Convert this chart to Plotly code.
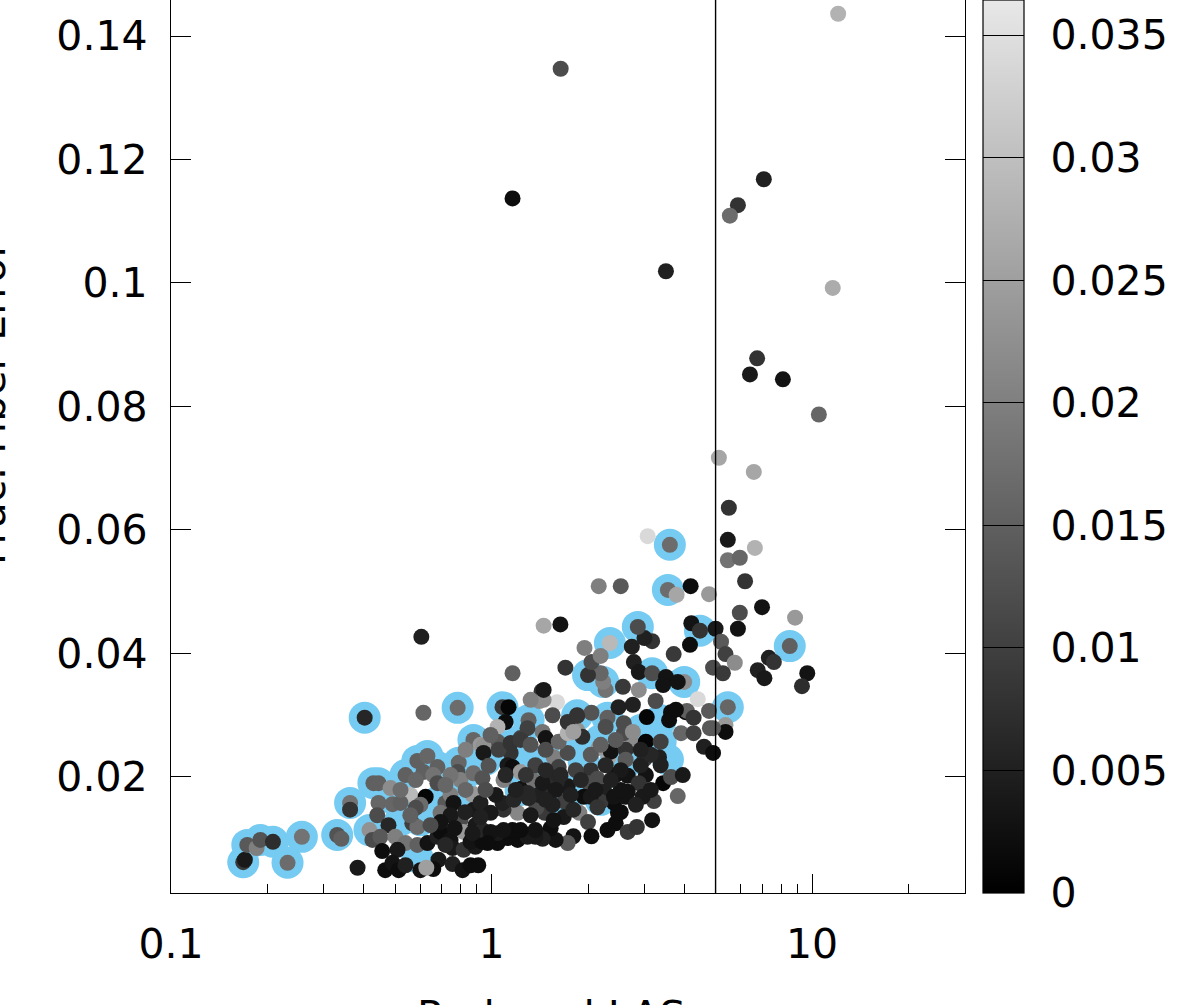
import plotly.graph_objects as go

# Gray points, in drawing order
las = [
.168,.170,.173,.185,.190,.208,.231,.256,.330,.340,.362,.362,.402,.382,.428,.444,.484,.444,.491,.440,
.539,.587,.631,.613,.678,.658,.678,.558,.623,.600,.580,.520,.477,.566,.587,.416,.425,.450,.501,.539,
.587,.456,.509,.631,.678,.693,.745,.756,.818,.891,.683,.466,.491,.513,.539,.600,.658,.756,.812,.860,
.909,.626,.718,.693,.745,.790,.784,.800,.872,.878,.924,.800,.818,.878,.860,.761,.613,.784,.604,
.745,.827,.693,.767,.891,.645,.718,
1.163,1.082,1.13,1.106,1.044,1.41,1.433,1.305,1.443,1.475,1.232,1.295,1.147,1.044,.944,.944,1.052,1.122,1.163,1.232,
.979,1.09,.878,.937,.878,.924,1.563,1.62,1.728,1.62,1.728,1.85,1.92,1.85,1.728,2.05,2.30,2.27,2.585,2.49,
2.76,3.05,3.63,3.58,4.03,3.25,2.88,2.57,2.27,2.23,2.19,2.0,2.05,2.78,2.88,3.17,3.50,3.43,3.99,3.81,
3.70,4.16,2.74,3.17,3.0,2.86,1.95,2.19,1.70,2.34,3.90,4.27,4.80,5.37,5.37,4.60,4.91,2.72,2.585,2.32,
2.16,2.355,2.62,3.03,3.37,2.62,3.0,3.33,3.37,2.04,2.14,2.01,2.25,2.44,2.66,3.03,3.43,3.63,3.95,2.88,
3.81,3.21,2.96,2.66,2.41,2.19,1.94,1.69,1.88,1.465,1.38,1.206,1.09,1.24,1.35,1.529,1.728,1.60,2.0,2.53,
2.44,2.30,2.66,2.84,3.17,2.05,1.80,1.728,1.585,1.529,1.443,1.37,1.206,1.122,1.044,.937,.937,1.044,1.163,1.295,
1.496,1.40,1.305,1.55,1.68,1.563,1.37,1.232,1.80,2.04,2.41,2.62,2.48,2.14,1.082,.993,.924,1.09,.993,.972,
.872,1.172,1.295,1.443,1.147,1.232,1.60,1.454,1.454,1.55,1.85,1.80,2.76,
12.06,1.643,1.163,5.87,7.07,5.54,3.5,11.6,6.74,6.40,8.11,10.5,5.12,6.58,5.50,5.46,3.07,3.6,6.63,5.46,
5.95,6.18,4.18,2.16,2.53,3.55,3.78,4.77,6.98,8.85,1.454,1.64,4.2,4.47,5.0,5.87,5.20,5.37,5.74,8.52,
7.33,7.6,6.77,7.1,9.66,9.3,4.91,5.27,4.4,5.46,4.07,3.76,4.27,4.77,4.91,5.95,
1.37,1.475,1.324,1.475,1.643,1.83,2.04,2.27,2.53,2.92,3.14,2.19,2.44,2.92,3.14,2.82,2.53,2.355,2.11,1.90,
1.766,1.585,1.475,1.324,1.19,1.106,1.03,.958,.83,.745,.718,.58,.52,.558,.83,1.28,.993,1.324,
]
frac_error = [
.0062,.0066,.0090,.0085,.0098,.0095,.0061,.0103,.0106,.0100,.0158,.0147,.0296,.0053,.0190,.0190,.0182,.0158,.0156,.0138,
.0203,.0226,.0234,.0208,.0216,.0203,.0190,.0171,.0168,.0155,.0150,.0158,.0122,.0125,.0119,.0114,.0098,.0103,.0103,.0093,
.0090,.0080,.0082,.0093,.0103,.0111,.0098,.0085,.0082,.0087,.0066,.0049,.0061,.0049,.0057,.0049,.0051,.0059,.0049,.0057,
.0057,.0053,.0158,.0142,.0171,.0223,.0208,.0195,.0171,.0260,.0252,.0130,.0111,.0147,.0095,.0158,.0304,.0312,.0427,
.0138,.0143,.0127,.0117,.0122,.0122,.0090,
.0368,.0313,.0313,.0289,.0281,.0323,.0339,.0292,.0273,.0263,.0263,.0279,.0239,.0257,.0250,.0239,.0244,.0219,.0216,.0208,
.0218,.0195,.0206,.0198,.0172,.0158,.0232,.0216,.0239,.0257,.0271,.0276,.0265,.0300,.0289,.0304,.0296,.0281,.0287,.0313,
.0317,.0297,.0305,.0292,.0305,.0323,.0341,.0346,.0341,.0354,.0368,.0365,.0386,.0386,.0370,.0368,.0362,.0349,.0354,.0354,
.0399,.0414,.0411,.0420,.0425,.0443,.0409,.0396,.0377,.0417,.0271,.0271,.0279,.0284,.0273,.0249,.0239,.0257,.0271,.0232,
.0247,.0241,.0244,.0257,.0257,.0228,.0229,.0232,.0219,.0211,.0197,.0190,.0176,.0203,.0202,.0203,.0190,.0200,.0203,.0190,
.0169,.0161,.0168,.0176,.0158,.0160,.0168,.0160,.0142,.0142,.0150,.0142,.0147,.0181,.0195,.0200,.0185,.0192,.0127,.0143,
.0125,.0114,.0111,.0119,.0130,.0104,.0104,.0093,.0098,.0117,.0100,.0103,.0098,.0101,.0093,.0095,.0114,.0109,.0114,.0103,
.0184,.0171,.0166,.0155,.0135,.0130,.0114,.0114,.0147,.0168,.0168,.0168,.0142,.0151,.0158,.0142,.0135,.0114,.0111,.0093,
.0109,.0163,.0174,.0190,.0255,.0260,.0321,.0325,.0341,.0300,.0299,.0273,.0273,
.1436,.1347,.1137,.1126,.1168,.1109,.1019,.0992,.0878,.0852,.0844,.0787,.0717,.0694,.0636,.0584,.0590,.0576,.0571,.0551,
.0555,.0517,.0509,.0509,.0509,.0503,.0495,.0496,.0475,.0458,.0445,.0447,.0449,.0437,.0440,.0440,.0419,.0399,.0385,.0412,
.0393,.0386,.0373,.0360,.0368,.0347,.0377,.0368,.0326,.0313,.0307,.0309,.0296,.0307,.0279,.0466,
.0219,.0211,.0252,.0244,.0203,.0211,.0236,.0219,.0211,.0219,.0236,.0252,.0260,.0244,.0179,.0155,.0179,.0195,.0179,.0195,
.0171,.0179,.0163,.0138,.0179,.0203,.0171,.0179,.0179,.0203,.0187,.0195,.0179,.0138,.0244,.0203,.0268,.0325,
]
gray_level = [
.009,.004,.014,.020,.013,.007,.017,.018,.013,.015,.018,.008,.006,.004,.015,.015,.022,.016,.016,.012,
.015,.015,.016,.015,.015,.018,.012,.029,.001,.017,.012,.015,.006,.010,.017,.023,.012,.014,.020,.018,
.015,.002,.004,.003,.005,.002,.003,.004,.008,.004,.004,.002,.003,.002,.005,.003,.002,.005,.003,.002,
.002,.025,.014,.018,.020,.016,.012,.020,.024,.016,.024,.012,.024,.004,.003,.003,.016,.017,.005,
.004,.005,.003,.003,.004,.012,.006,
.015,.009,.001,.002,.028,.022,.008,.015,.018,.003,.010,.010,.008,.014,.023,.004,.010,.004,.002,.024,
.013,.020,.017,.013,.024,.005,.020,.010,.012,.016,.028,.023,.007,.007,.008,.013,.015,.012,.012,.005,
.005,.001,.002,.002,.002,.012,.022,.009,.018,.020,.016,.008,.012,.005,.004,.012,.003,.003,.022,.003,
.009,.002,.005,.008,.005,.012,.020,.020,.008,.029,.016,.010,.014,.024,.002,.005,.002,.022,.012,.026,
.024,.003,.008,.001,.010,.014,.010,.005,.005,.008,.012,.012,.005,.003,.003,.003,.001,.012,.004,.008,
.016,.010,.004,.003,.002,.009,.002,.010,.020,.009,.012,.021,.008,.003,.018,.006,.004,.006,.010,.002,
.002,.002,.009,.008,.003,.002,.003,.014,.003,.002,.005,.004,.002,.002,.002,.002,.006,.004,.002,.004,
.007,.005,.006,.005,.004,.003,.003,.002,.006,.004,.003,.003,.002,.008,.005,.004,.005,.003,.003,.002,
.004,.006,.006,.004,.008,.009,.034,.022,.004,.012,.008,.025,.022,
.028,.012,.002,.008,.005,.017,.005,.027,.008,.004,.003,.016,.026,.026,.008,.004,.034,.017,.028,.018,
.016,.008,.002,.020,.014,.017,.026,.024,.003,.024,.026,.003,.003,.008,.004,.003,.014,.010,.022,.015,
.005,.008,.005,.004,.003,.007,.012,.009,.034,.016,.015,.002,.008,.014,.014,.012,
.010,.006,.013,.012,.006,.010,.014,.006,.004,.005,.006,.015,.014,.005,.004,.005,.003,.005,.004,.006,
.005,.004,.005,.004,.005,.006,.004,.012,.016,.018,.016,.016,.017,.015,.020,.008,.015,.020,
]
assert len(las) == len(frac_error) == len(gray_level), (len(las), len(frac_error), len(gray_level))

# Points with the pale-blue halo
halo_las = [
.168,.173,.190,.208,.231,.256,.330,.362,.402,.416,.428,.444,.539,.587,.631,.678,.784,.790,.878,1.082,
1.305,1.85,2.0,2.23,2.34,2.86,3.17,3.99,3.6,3.55,4.47,8.52,5.46,3.37,2.30,1.94,1.51,1.324,1.067,.958,
.80,.693,.60,.52,.50,1.83,1.585,1.232,2.19,2.44,2.92,2.72,1.232,.587,1.83,3.37,2.19,3.14,3.55,.86,
]
halo_error = [
.0062,.0090,.0098,.0095,.0061,.0103,.0106,.0158,.0296,.0114,.0190,.0190,.0203,.0226,.0234,.0216,.0312,.0223,.0260,.0313,
.0292,.0300,.0365,.0354,.0417,.0443,.0368,.0354,.0576,.0503,.0437,.0412,.0313,.0257,.0296,.0224,.0224,.0228,.0252,.0228,
.0179,.0163,.0130,.0130,.0163,.0179,.0163,.0179,.0163,.0228,.0276,.0228,.0260,.0070,.0252,.0292,.0260,.0276,.0228,.0211,
]
assert len(halo_las) == len(halo_error)

cut_las = [5, 5]
cut_error = [0.00121, 0.14583]

x_tick_vals = [0.1, 1, 10]
x_tick_text = ["0.1", "1", "10"]
x_minor_vals = [.2, .3, .4, .5, .6, .7, .8, .9, 2, 3, 4, 5, 6, 7, 8, 9, 20, 30]
y_tick_vals = [0.02, 0.04, 0.06, 0.08, 0.1, 0.12, 0.14]
y_tick_text = ["0.02", "0.04", "0.06", "0.08", "0.1", "0.12", "0.14"]
cb_tick_vals = [0, 0.005, 0.01, 0.015, 0.02, 0.025, 0.03, 0.035]
cb_tick_text = ["0", "0.005", "0.01", "0.015", "0.02", "0.025", "0.03", "0.035"]

FONT = dict(family="DejaVu Sans", size=41, color="black")
W, H = 1196, 1005
L, R, T, B = 171, 965, 0, 893
PAD = "\u2005\u2006"

fig = go.Figure()
fig.add_trace(go.Scatter(x=halo_las, y=halo_error, mode="markers", showlegend=False, hoverinfo="skip",
                         marker=dict(size=32, color="#75CBF1", line=dict(width=0))))
fig.add_trace(go.Scatter(x=las, y=frac_error, mode="markers", showlegend=False,
                         marker=dict(size=16, color=gray_level, coloraxis="coloraxis", line=dict(width=0))))
fig.add_trace(go.Scatter(x=cut_las, y=cut_error, mode="lines", showlegend=False, hoverinfo="skip",
                         line=dict(color="black", width=1.4)))

fig.update_layout(
    width=W, height=H, margin=dict(l=L, r=W - R, t=T, b=H - B, pad=0, autoexpand=False),
    paper_bgcolor="white", plot_bgcolor="white", font=FONT,
    xaxis=dict(type="log", range=[-1, 1.4771], showgrid=False, zeroline=False,
               showline=True, linecolor="black", linewidth=1.4, mirror=False,
               ticks="inside", ticklen=19, tickwidth=1.2, tickcolor="black",
               tickmode="array", tickvals=x_tick_vals, ticktext=x_tick_text,
               ticklabelstandoff=15,
               minor=dict(ticks="inside", ticklen=9, tickwidth=1.2, tickcolor="black",
                          tickmode="array", tickvals=x_minor_vals, showgrid=False),
               tickfont=FONT),
    yaxis=dict(range=[0.00121, 0.14583], showgrid=False, zeroline=False,
               showline=True, linecolor="black", linewidth=1.4, mirror="ticks",
               ticks="inside", ticklen=20, tickwidth=1.2, tickcolor="black",
               tickmode="array", tickvals=y_tick_vals, ticktext=y_tick_text,
               ticklabelstandoff=14,
               tickfont=FONT),
    coloraxis=dict(cmin=0, cmax=0.03643,
                   colorscale=[[0, "rgb(0,0,0)"], [1, "rgb(232,232,232)"]],
                   colorbar=dict(x=(983 - L) / (R - L), xanchor="left", xref="paper",
                                 y=0, yanchor="bottom", yref="paper",
                                 len=893, lenmode="pixels", thickness=41, thicknessmode="pixels",
                                 xpad=0, ypad=0, outlinecolor="black", outlinewidth=1.2,
                                 ticks="inside", ticklen=41, tickwidth=1.2, tickcolor="black",
                                 tickmode="array", tickvals=cb_tick_vals,
                                 ticktext=[PAD + t for t in cb_tick_text], tickfont=FONT)),
    annotations=[
        dict(text="Frac. Fiber Error", xref="paper", yref="paper", showarrow=False, textangle=-90,
             x=(-9 - L) / (R - L), y=(B - 403) / B, xanchor="center", yanchor="middle", font=FONT),
        dict(text="Reduced LAS", xref="paper", yref="paper", showarrow=False,
             x=(415 - L) / (R - L), y=(B - 990) / B, xanchor="left", yanchor="top", font=FONT),
    ],
)
fig.write_html("out.html", config=dict(displayModeBar=False),
               post_script="document.body.style.margin='0';document.documentElement.style.overflow='hidden';")
